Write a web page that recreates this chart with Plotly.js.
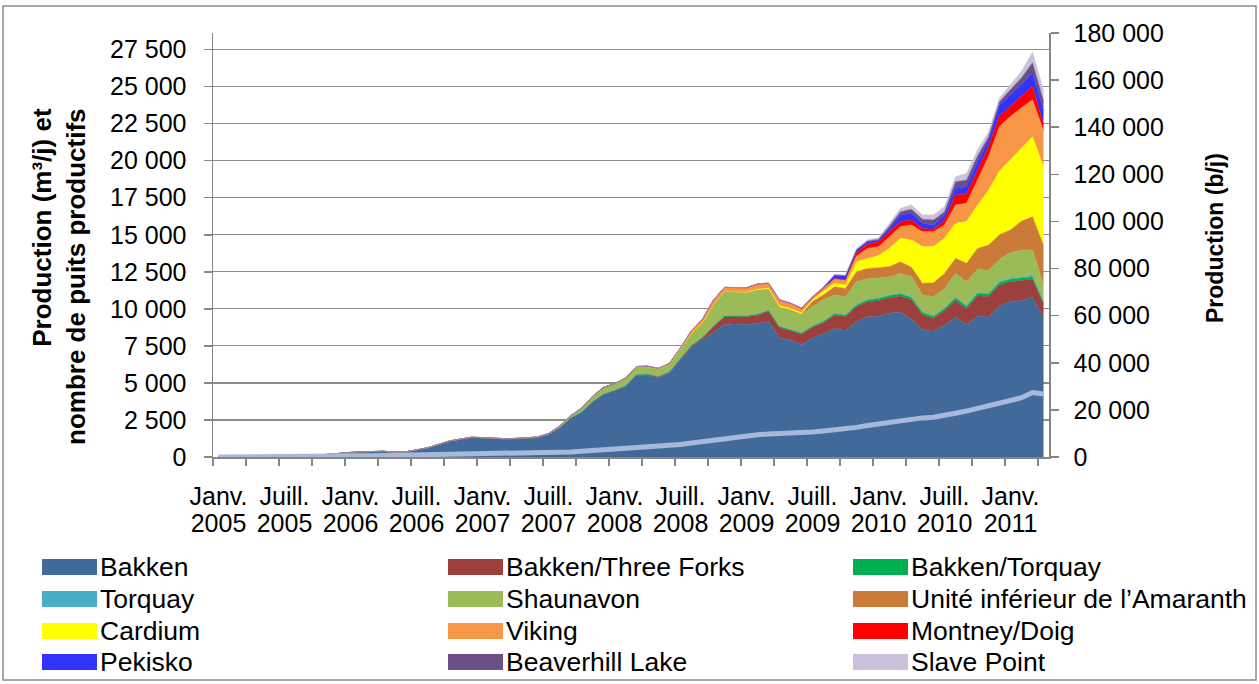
<!DOCTYPE html>
<html>
<head>
<meta charset="utf-8">
<script src="https://cdn.plot.ly/plotly-3.0.1.min.js"></script>
<style>
  body { margin: 0; background: #fff; }
  #graph { width: 1259px; height: 684px; }
</style>
</head>
<body>
<div id="graph"></div>
<script>
// Production mensuelle (m³/j), janv. 2005 -> avr. 2011 (76 mois)
const bakken = [0,0,0,0,0,0,0,10, 60,130,200,260,300,340,370,380, 320,340,460,600,820,1050,1180,1300,
  1270,1230,1200,1210,1230,1290,1500,1950, 2600,3000,3700,4200,4450,4750,5500,5520,
  5350,5650,6550,7400,7900,8450,8950,8970, 8950,9010,9150,8050,7900,7580,8030,8320,
  8670,8530,9130,9460,9500,9720,9770,9300, 8620,8480,8900,9430,8930,9530,9440,10200,
  10470,10560,10760,9430];
const threeForks = [0,0,0,0,0,0,0,0, 0,0,5,10,10,10,10,10, 10,10,15,15,20,20,20,20,
  20,20,20,20,20,20,20,20, 20,25,30,35,40,40,50,50, 60,80,90,100,130,340,500,500,
  520,560,680,680,630,720,720,740, 900,950,1010,1010,1050,1030,1090,1310,
  980,860,970,1150,1080,1350,1390,1410, 1350,1350,1230,900];
const bakkenTorquay = [0,0,0,0,0,0,0,0, 0,0,0,0,0,0,0,0, 0,0,0,0,0,0,0,0, 0,0,0,0,0,0,5,10,
  10,15,15,20,20,20,20,25, 30,30,30,40,60,70,80,80, 80,80,90,90,90,90,90,100,
  100,100,120,130,140,150,150,150, 150,150,150,160,160,170,170,170, 180,180,180,120];
const torquay = [0,0,0,0,0,0,0,0, 0,0,0,0,0,0,0,0, 0,0,0,0,0,0,0,0, 0,0,0,0,0,0,0,0,
  0,0,0,0,0,0,0,0, 0,0,0,0,0,0,0,0, 0,0,0,0,0,0,10,20,
  20,20,30,30,40,40,40,40, 40,40,40,50,50,50,60,60, 60,60,60,40];
const shaunavon = [0,0,0,0,0,0,0,0, 0,0,0,0,0,0,0,0, 0,0,5,10,10,15,15,20,
  20,20,20,25,30,40,60,100, 150,250,350,450,450,500,520,520, 520,520,600,800,960,1400,1630,1610,
  1540,1620,1390,1280,1300,1190,1300,1430, 1240,1220,1540,1420,1350,1230,1340,1370,
  1140,1290,1320,1600,1610,1570,1520,1510, 1740,1810,1760,1110];
const amaranth = [0,0,0,0,0,0,0,0, 0,0,0,0,0,0,0,0, 0,0,0,0,0,0,0,0, 0,0,0,0,0,0,0,0,
  0,0,0,0,0,0,0,0, 0,0,0,0,0,0,0,0, 0,0,0,0,0,50,340,340,
  560,560,670,680,700,680,790,630, 790,940,1010,1020,1240,1410,1730,1650, 1530,1960,2220,2700];
const cardium = [0,0,0,0,0,0,0,0, 0,0,0,0,0,0,0,0, 0,0,0,0,0,0,0,0, 0,0,0,0,0,0,0,0,
  0,0,0,0,0,0,0,0, 0,0,0,0,0,0,0,0, 30,50,80,100,100,100,110,230,
  230,230,680,670,800,1240,1580,1850, 2480,2440,2370,2360,2820,2920,3690,4310, 4740,4910,5410,5300];
const viking = [0,0,0,0,0,0,0,0, 0,0,0,0,0,0,0,0, 0,0,0,0,0,0,0,0, 0,0,0,0,0,0,0,0,
  0,0,0,0,0,10,20,20, 30,50,100,200,250,340,290,300, 300,350,330,400,350,300,180,220,
  330,330,380,680,610,780,790,1010, 1010,1010,900,1240,1230,1690,2270,3000, 2920,2740,2500,2400];
const montney = [0,0,0,0,0,0,0,0, 0,0,0,0,0,0,0,0, 0,0,0,0,0,0,0,0, 0,0,0,0,0,0,0,0,
  0,0,0,0,0,0,0,0, 0,0,0,0,0,0,0,0, 0,0,0,0,0,0,0,0,
  0,20,230,290,340,340,340,340, 220,160,340,680,630,680,680,720, 670,790,900,450];
const pekisko = [0,0,0,0,0,0,0,0, 0,0,0,0,0,0,0,0, 0,0,0,0,0,0,0,0, 0,0,0,0,0,0,0,0,
  0,0,0,0,0,0,0,0, 0,0,0,0,0,0,0,0, 10,20,20,20,20,20,30,60,
  230,270,180,160,110,220,450,450, 340,290,340,440,490,560,450,750, 790,780,900,900];
const beaverhill = [0,0,0,0,0,0,0,0, 0,0,0,0,0,0,0,0, 0,0,0,0,0,0,0,0, 0,0,0,0,0,0,0,0,
  0,0,0,0,0,0,0,0, 0,0,0,0,0,0,0,0, 0,0,0,0,0,0,0,0,
  10,20,30,50,60,160,220,270, 280,340,220,450,450,390,200,220, 340,450,690,700];
const slavePoint = [0,0,0,0,0,0,0,0, 0,0,0,0,0,0,0,0, 0,0,0,0,0,0,0,0, 0,0,0,0,0,0,0,0,
  0,0,0,0,0,0,0,0, 0,0,0,0,0,0,0,0, 0,0,0,0,0,0,10,20,
  30,30,60,80,100,180,230,290, 290,340,340,340,450,400,340,230, 330,450,720,700];
// Nombre de puits productifs
const wells = [0,0,0,0,0,0,0,10, 20,30,40,60,70,80,90,100, 100,110,120,140,160,180,190,200,
  220,230,240,250,260,270,280,310, 340,380,430,520,570,600,660,700,
  720,760,850,950,1050,1150,1250,1330, 1420,1500,1560,1580,1600,1620,1680,1750,
  1830,1870,2000,2120,2230,2330,2450,2570, 2640,2680,2780,2950,3100,3270,3420,3600,
  3830,4000,4350,4250];

const tickMonths = ["Janv.","Juill.","Janv.","Juill.","Janv.","Juill.","Janv.",
  "Juill.","Janv.","Juill.","Janv.","Juill.","Janv."];
const tickYears = ["2005","2005","2006","2006","2007","2007","2008","2008",
  "2009","2009","2010","2010","2011"];

const seriesNames = ["Bakken","Bakken/Three Forks","Bakken/Torquay","Torquay","Shaunavon",
  "Unité inférieur de l’Amaranth","Cardium","Viking","Montney/Doig","Pekisko","Beaverhill Lake","Slave Point"];
const seriesData = [bakken, threeForks, bakkenTorquay, torquay, shaunavon, amaranth,
  cardium, viking, montney, pekisko, beaverhill, slavePoint];
const colors = ["#41699A","#9C3F3D","#00B050","#4BACC6","#9BBB59","#CC7A38",
  "#FFFF00","#F79646","#FF0000","#3333FF","#6A4F88","#CCC1DA"];

const months = bakken.map((_, i) => i);
const traces = [];

seriesData.forEach((vals, i) => {
  traces.push({
    x: months, y: vals, type: 'scatter', mode: 'lines',
    stackgroup: 'prod', name: seriesNames[i],
    line: { color: colors[i], width: 0.5 },
    fillcolor: colors[i], hoverinfo: 'skip'
  });
});

traces.push({
  x: months, y: wells, type: 'scatter', mode: 'lines',
  name: 'Puits productifs', line: { color: '#A7B9DB', width: 5 }, hoverinfo: 'skip'
});

// axes supplémentaires (étiquettes sur deux lignes et axe de droite)
traces.push({ x: [0], y: [null], xaxis: 'x2', yaxis: 'y', hoverinfo: 'skip', mode: 'lines' });
traces.push({ x: [0], y: [null], xaxis: 'x3', yaxis: 'y', hoverinfo: 'skip', mode: 'lines' });
traces.push({ x: [0], y: [null], xaxis: 'x', yaxis: 'y2', hoverinfo: 'skip', mode: 'lines' });

const leftTicks = [];
for (let v = 0; v <= 27500; v += 2500) leftTicks.push(v);
const rightTicks = [];
for (let v = 0; v <= 180000; v += 20000) rightTicks.push(v);
const boundTicks = [];
for (let v = -0.5; v < 75.5; v += 3) boundTicks.push(v);
const labelPos = tickMonths.map((_, i) => i * 6);

const FONT = 'Liberation Sans, Arial, sans-serif';
const axisGrey = '#868686';

// conversion pixels -> coordonnées papier (zone de tracé 213..1049 x 33..457)
const px2x = p => (p - 213) / 836;
const py2y = p => (457 - p) / 424;

// légende dessinée à la main : 3 colonnes, 4 lignes
const legCols = [42, 448, 853];
const legRows = [567, 599, 631, 662];
const shapes = [{
  type: 'rect', xref: 'paper', yref: 'paper',
  x0: px2x(3), x1: px2x(1256), y0: py2y(680), y1: py2y(6),
  line: { color: '#8A8A8A', width: 1.5 }, fillcolor: 'rgba(0,0,0,0)', layer: 'below'
}];
const annotations = [
  {
    text: '<b>Production (m³/j) et<br>nombre de puits productifs</b>',
    xref: 'paper', yref: 'paper', x: px2x(59), y: py2y(277),
    xanchor: 'center', yanchor: 'middle', textangle: -90, showarrow: false, align: 'right',
    font: { family: FONT, size: 26, color: '#000' }
  },
  {
    text: '<b>Production (b/j)</b>',
    xref: 'paper', yref: 'paper', x: px2x(1215), y: py2y(238),
    xanchor: 'center', yanchor: 'middle', textangle: -90, showarrow: false,
    font: { family: FONT, size: 23, color: '#000' }
  }
];
seriesNames.forEach((nm, i) => {
  const cx = legCols[i % 3], cy = legRows[Math.floor(i / 3)];
  shapes.push({
    type: 'rect', xref: 'paper', yref: 'paper',
    x0: px2x(cx), x1: px2x(cx + 55), y0: py2y(cy + 8), y1: py2y(cy - 8),
    line: { width: 0 }, fillcolor: colors[i]
  });
  annotations.push({
    text: nm, xref: 'paper', yref: 'paper', x: px2x(cx + 56), y: py2y(cy),
    xanchor: 'left', yanchor: 'middle', showarrow: false,
    font: { family: FONT, size: 26.5, color: '#000' }
  });
});

const tickFont = { family: FONT, size: 25, color: '#000' };
const xFont = { family: FONT, size: 25, color: '#000' };

const layout = {
  width: 1259, height: 684,
  margin: { l: 213, r: 210, t: 33, b: 227 },
  paper_bgcolor: '#fff', plot_bgcolor: '#fff',
  separators: ', ',
  font: tickFont,
  showlegend: false,
  xaxis: {
    type: 'linear', range: [-0.5, 75.5], tickmode: 'array', tickvals: boundTicks,
    showticklabels: false, ticks: 'outside', ticklen: 7, tickcolor: axisGrey, tickwidth: 1.5,
    showline: true, linecolor: axisGrey, linewidth: 1.5, showgrid: false, zeroline: false
  },
  xaxis2: {
    type: 'linear', range: [-0.5, 75.5], overlaying: 'x', anchor: 'y', side: 'bottom',
    tickmode: 'array', tickvals: labelPos, ticktext: tickMonths, ticks: '',
    ticklabelstandoff: 22, tickfont: xFont,
    showline: false, showgrid: false, zeroline: false
  },
  xaxis3: {
    type: 'linear', range: [-0.5, 75.5], overlaying: 'x', anchor: 'y', side: 'bottom',
    tickmode: 'array', tickvals: labelPos, ticktext: tickYears, ticks: '',
    ticklabelstandoff: 49, tickfont: xFont,
    showline: false, showgrid: false, zeroline: false
  },
  yaxis: {
    range: [0, 28617], tickmode: 'array', tickvals: leftTicks, tickformat: ',d',
    ticks: 'outside', ticklen: 8, tickcolor: axisGrey, tickwidth: 1.5,
    ticklabelstandoff: 12, tickfont: tickFont,
    showline: true, linecolor: axisGrey, linewidth: 1.5,
    showgrid: true, gridcolor: '#8C8C8C', gridwidth: 1.2, zeroline: false
  },
  yaxis2: {
    range: [0, 180000], overlaying: 'y', side: 'right', anchor: 'x',
    tickmode: 'array', tickvals: rightTicks, tickformat: ',d',
    ticks: 'outside', ticklen: 8, tickcolor: axisGrey, tickwidth: 1.5,
    ticklabelstandoff: 10, tickfont: tickFont,
    showline: true, linecolor: axisGrey, linewidth: 1.5, showgrid: false, zeroline: false
  },
  annotations: annotations,
  shapes: shapes
};

Plotly.newPlot('graph', traces, layout, { displayModeBar: false, staticPlot: true });
</script>
</body>
</html>
